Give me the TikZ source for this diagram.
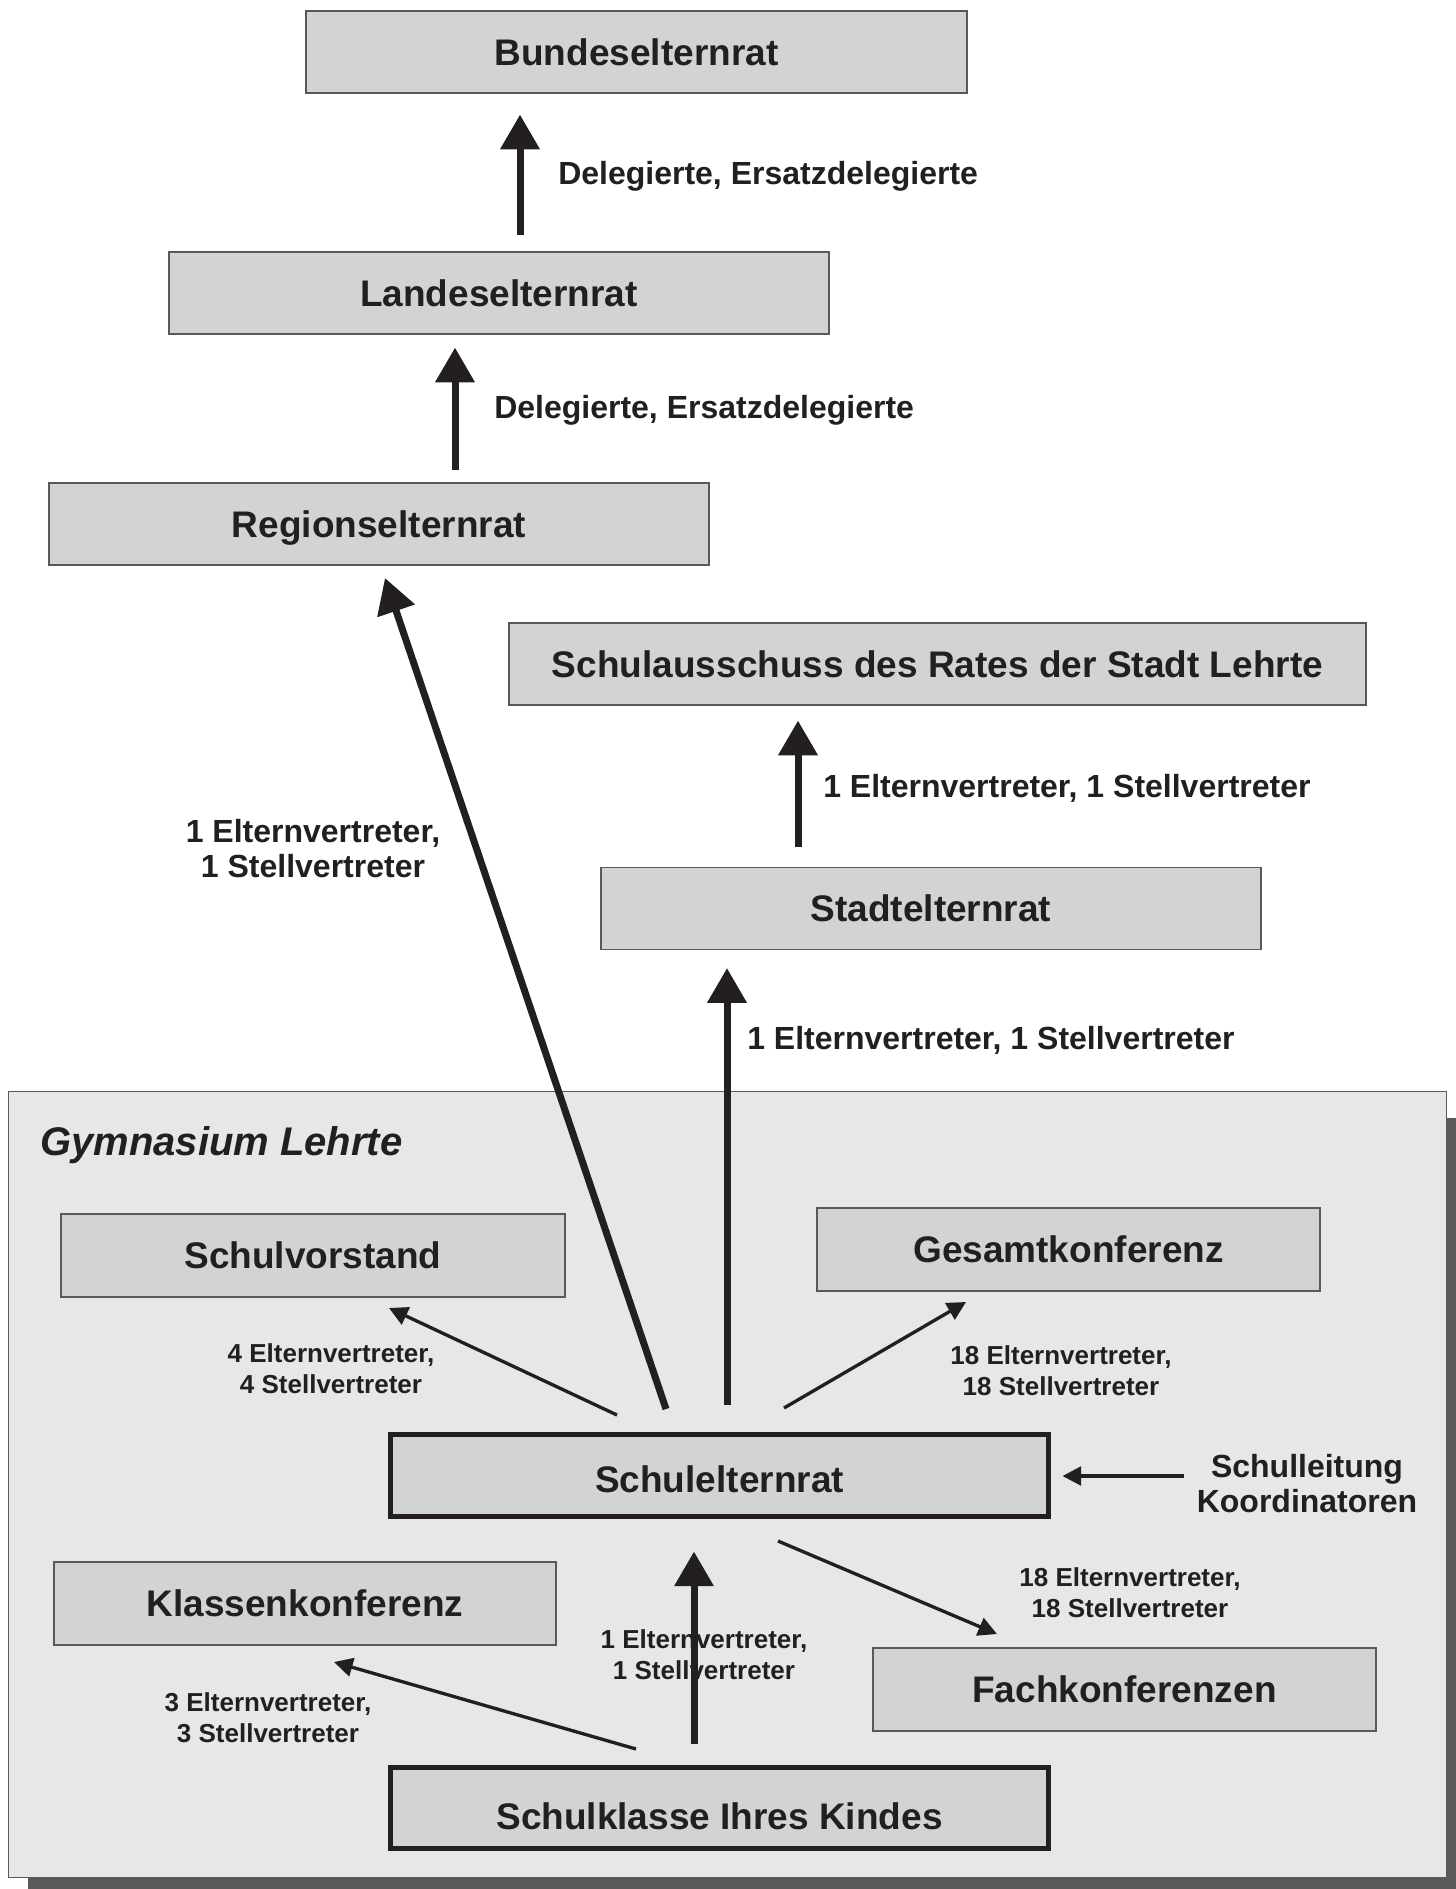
\documentclass[tikz,border=0pt]{standalone}
\usepackage{fontspec}
\setmainfont{Liberation Sans}
\usepackage{tikz}
\usetikzlibrary{arrows.meta,calc}

\definecolor{ink}{HTML}{231F20}
\definecolor{boxfill}{HTML}{D1D3D4}
\definecolor{schoolfill}{HTML}{E6E7E8}
\definecolor{shadowgray}{HTML}{58595B}
\definecolor{boxline}{HTML}{58595B}

\tikzset{
    council/.style={draw=boxline, fill=boxfill, line width=0.9pt, minimum width=495pt, minimum height=61.5pt,
        inner sep=0pt, text height=20pt, text depth=0pt, text=ink, font=\fontsize{27.75}{33}\selectfont\bfseries},
    keycouncil/.style={council, draw=ink, line width=3.75pt, minimum width=493.5pt},
    biglabel/.style={inner sep=0pt, text=ink, align=center, font=\fontsize{24}{26.25}\selectfont\bfseries},
    smalllabel/.style={inner sep=0pt, text=ink, align=center, font=\fontsize{19.5}{23.25}\selectfont\bfseries},
    bigarrow/.style={draw=ink, line width=5.25pt, -{Triangle[length=26pt,width=28.5pt]}},
    thinarrow/.style={draw=ink, line width=2.5pt, -{Triangle[length=14pt,width=14pt]}},
}

\begin{document}
\begin{tikzpicture}[x=0.75pt,y=0.75pt,yscale=-1,xscale=1]
        \useasboundingbox (0,0) rectangle (1456,1889);
        %Shape: school frame with shadow
        \fill [shadowgray] (28,1118) rectangle (1456,1889);
        \draw [draw=boxline, fill=schoolfill, line width=0.75pt] (8,1091) rectangle (1446,1877);
        % Councils
        \node [council, minimum width=495.75pt] (bundes) at (636.5,52) {Bundeselternrat};
        \node [council] (landes) at (499,293) {Landeselternrat};
        \node [council] (region) at (379,524) {Regionselternrat};
        \node [council, minimum width=642.75pt] (ausschuss) at (937.5,664) {Schulausschuss des Rates der Stadt Lehrte};
        \node [council] (stadt) at (931,908.5) {Stadtelternrat};
        \node [council, minimum width=378pt, minimum height=62.25pt] (vorstand) at (313,1255.5) {Schulvorstand};
        \node [council, minimum width=377.25pt, minimum height=62.25pt] (gesamt) at (1068.5,1249.5) {Gesamtkonferenz};
        \node [keycouncil, text height=25.6pt] (schulrat) at (719.5,1475.5) {Schulelternrat};
        \node [council, minimum width=376.5pt, minimum height=62.25pt] (klassen) at (305,1603.5) {Klassenkonferenz};
        \node [council, minimum width=377.25pt, minimum height=62.25pt] (fach) at (1124.5,1689.5) {Fachkonferenzen};
        \node [keycouncil, minimum height=60.75pt, text height=32pt] (klasse) at (719.5,1808) {Schulklasse Ihres Kindes};
        % Text Nodes
        \node [anchor=west, inner sep=0pt, text=ink, font=\fontsize{30}{34}\selectfont\bfseries\itshape] (schule) at (40,1145) {Gymnasium Lehrte};
        \node [biglabel, anchor=west] (lab1) at (558,176) {Delegierte, Ersatzdelegierte};
        \node [biglabel, anchor=west] (lab2) at (494,410) {Delegierte, Ersatzdelegierte};
        \node [biglabel] (lab3) at (313,849) {1 Elternvertreter,\\1 Stellvertreter};
        \node [biglabel, anchor=west] (lab4) at (823,788) {1 Elternvertreter, 1 Stellvertreter};
        \node [biglabel, anchor=west] (lab5) at (747,1040) {1 Elternvertreter, 1 Stellvertreter};
        \node [biglabel] (leitung) at (1307,1484) {Schulleitung\\Koordinatoren};
        \node [smalllabel] (lab6) at (331,1368.5) {4 Elternvertreter,\\4 Stellvertreter};
        \node [smalllabel] (lab7) at (1061,1371) {18 Elternvertreter,\\18 Stellvertreter};
        \node [smalllabel] (lab8) at (1130,1592.5) {18 Elternvertreter,\\18 Stellvertreter};
        \node [smalllabel] (lab9) at (704,1654.5) {1 Elternvertreter,\\1 Stellvertreter};
        \node [smalllabel] (lab10) at (268,1718) {3 Elternvertreter,\\3 Stellvertreter};
        % Arrow ends
        \coordinate (landesup) at (520,235);
        \coordinate (regionup) at (455,470);
        \coordinate (ratregion) at (666,1409);
        \coordinate (regiontip) at (385,578);
        \coordinate (stadtup) at (798,847);
        \coordinate (ratstadt) at (727,1405);
        \coordinate (ratvorstand) at (617,1415);
        \coordinate (vorstandtip) at (389,1308);
        \coordinate (ratgesamt) at (784,1408);
        \coordinate (gesamttip) at (966,1302);
        \coordinate (leitungout) at (1184,1476);
        \coordinate (ratfach) at (778,1541);
        \coordinate (fachtip) at (997,1634);
        \coordinate (klasseup) at (694,1744);
        \coordinate (klasseklassen) at (636,1749);
        \coordinate (klassentip) at (334,1662);
        % Arrows
        \draw [bigarrow, shorten >=15.75pt] (landesup) -- (landesup |- bundes.south);
        \draw [bigarrow, shorten >=9.75pt] (regionup) -- (regionup |- landes.south);
        \draw [bigarrow] (ratregion) -- (regiontip);
        \draw [bigarrow, shorten >=11.25pt] (stadtup) -- (stadtup |- ausschuss.south);
        \draw [bigarrow, shorten >=13.5pt] (ratstadt) -- (ratstadt |- stadt.south);
        \draw [thinarrow] (ratvorstand) -- (vorstandtip);
        \draw [thinarrow] (ratgesamt) -- (gesamttip);
        \draw [thinarrow, shorten >=8.6pt] (leitungout) -- (leitungout -| schulrat.east);
        \draw [thinarrow] (ratfach) -- (fachtip);
        \draw [bigarrow, shorten >=24.4pt] (klasseup) -- (klasseup |- schulrat.south);
        \draw [thinarrow] (klasseklassen) -- (klassentip);
\end{tikzpicture}
\end{document}
